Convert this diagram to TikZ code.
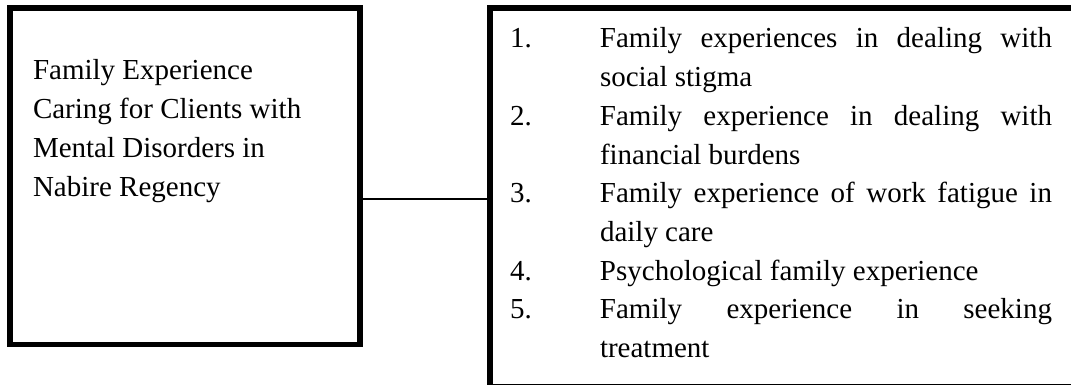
\documentclass[tikz,border=0pt]{standalone}
\usepackage{fontspec}
\setmainfont{Liberation Serif}
\newcommand\famitem[2]{\hangindent=90pt\hangafter=1\noindent\makebox[90pt][l]{#1}#2\par}
\begin{document}
\begin{tikzpicture}[x=1pt,y=-1pt,
  frame/.style={draw,line width=5.5pt,rectangle,inner sep=0pt,outer sep=0pt},
  link/.style={line width=1.6pt},
  txt/.style={inner sep=0pt,outer sep=0pt,anchor=base west,font=\fontsize{29}{38.7}\selectfont}]
\useasboundingbox (0,0) rectangle (1071,385);
\begin{scope}
\clip (0,0) rectangle (1071,385);
\node[frame,anchor=north west,minimum width=350pt,minimum height=336.5pt] (L) at (10,8) {};
\node[frame,anchor=north west,minimum width=600pt,minimum height=378.5pt] (R) at (490,8) {};
\coordinate (j) at (0,199);
\draw[link] (L.east |- j) -- (R.west |- j);
\node[txt] (Lt) at (33,80) {\parbox[t]{320pt}{\raggedright Family Experience\\Caring for Clients with\\Mental Disorders in\\Nabire Regency}};
\node[txt] (Rt) at (510,48) {\parbox[t]{542pt}{\hyphenpenalty=10000\tolerance=10000\parskip=0pt
\famitem{1.}{Family experiences in dealing with\linebreak social stigma}
\famitem{2.}{Family experience in dealing with\linebreak financial burdens}
\famitem{3.}{Family experience of work fatigue in\linebreak daily care}
\famitem{4.}{Psychological family experience}
\famitem{5.}{Family experience in seeking\linebreak treatment}}};
\end{scope}
\end{tikzpicture}
\end{document}
